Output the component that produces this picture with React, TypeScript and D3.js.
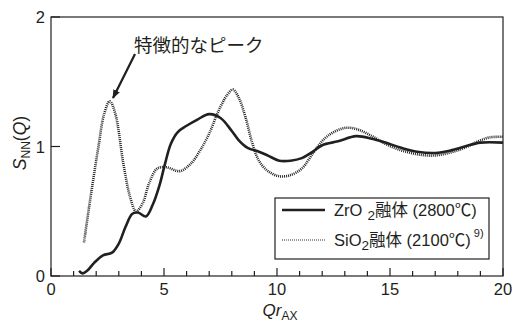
import React from "react";
import * as d3 from "d3";

const zrX = [1.24, 1.4, 1.6, 1.9, 2.3, 2.7, 3.0, 3.3, 3.6, 3.85, 4.2, 4.5, 4.8, 5.05, 5.3, 5.6, 6.0, 6.5, 7.0, 7.5, 8.0, 8.3, 8.7, 9.2, 9.6, 10.1, 10.6, 11.1, 11.5, 12.0, 12.7, 13.5, 14.2, 14.8, 15.5, 16.2, 17.0, 17.7, 18.3, 19.0, 20];
const zrY = [0.04, 0.02, 0.04, 0.1, 0.16, 0.18, 0.25, 0.38, 0.48, 0.49, 0.46, 0.55, 0.7, 0.87, 1.02, 1.11, 1.16, 1.21, 1.25, 1.22, 1.12, 1.05, 0.99, 0.96, 0.93, 0.89, 0.89, 0.91, 0.95, 1.01, 1.04, 1.08, 1.06, 1.03, 0.99, 0.96, 0.95, 0.97, 1.0, 1.03, 1.03];

const siX = [1.46, 1.7, 1.9, 2.1, 2.35, 2.6, 2.85, 3.2, 3.5, 3.76, 4.05, 4.35, 4.7, 5.1, 5.7, 6.2, 6.6, 7.0, 7.4, 7.8, 8.05, 8.3, 8.6, 8.9, 9.2, 9.6, 10.1, 10.6, 11.1, 11.6, 12.1, 12.6, 13.1, 13.6, 14.2, 14.8, 15.5, 16.2, 16.9, 17.6, 18.3, 18.9, 19.4, 20];
const siY = [0.26, 0.55, 0.78, 1.0, 1.25, 1.35, 1.25, 0.87, 0.61, 0.5, 0.56, 0.72, 0.83, 0.84, 0.81, 0.87, 0.97, 1.1, 1.27, 1.4, 1.44, 1.38, 1.23, 1.03, 0.89, 0.81, 0.77, 0.78, 0.83, 0.95, 1.06, 1.12, 1.145, 1.13, 1.08, 1.02, 0.97, 0.94, 0.93, 0.95, 0.99, 1.04, 1.07, 1.075];

const xMajor = [0, 5, 10, 15, 20];
const xMinor = [1, 2, 3, 4, 6, 7, 8, 9, 11, 12, 13, 14, 16, 17, 18, 19];
const yTicks = [0, 1, 2];

const annotation = "特徴的なピーク";
const legendZr = ["ZrO", "2", "融体 (2800℃)"];
const legendSi = ["SiO", "2", "融体 (2100℃)", "9)"];

export default function App() {
  const W = 514, H = 325;
  const L = 51, R = 503, T = 17, B = 276;
  const x = d3.scaleLinear().domain([0, 20]).range([L, R]);
  const y = d3.scaleLinear().domain([0, 2]).range([B, T]);
  const line = d3
    .line<[number, number]>()
    .x((d) => x(d[0]))
    .y((d) => y(d[1]))
    .curve(d3.curveCatmullRom.alpha(0.5));
  const zr: [number, number][] = zrX.map((v, i) => [v, zrY[i]]);
  const si: [number, number][] = siX.map((v, i) => [v, siY[i]]);
  const font = "'Liberation Sans', Arial, 'Noto Sans CJK JP', sans-serif";
  const ink = "#231f20";

  return (
    <div style={{ position: "absolute", left: 0, top: 0 }}>
      <svg width={W} height={H} style={{ display: "block", background: "#fff" }} fontFamily={font}>
        <defs>
          <marker id="ah" viewBox="0 0 10 10" refX="9" refY="5" markerWidth="9" markerHeight="9" orient="auto" markerUnits="userSpaceOnUse">
            <path d="M0,1 L10,5 L0,9 Z" fill={ink} />
          </marker>
        </defs>
        <rect x={L} y={T} width={R - L} height={B - T} fill="none" stroke={ink} strokeWidth={1.2} />
        {xMajor.map((t) => (
          <g key={"xM" + t}>
            <line x1={x(t)} x2={x(t)} y1={B} y2={B - 8} stroke={ink} strokeWidth={1.2} />
            <text x={x(t)} y={295} textAnchor="middle" fontSize={16.5} fill={ink}>{t}</text>
          </g>
        ))}
        {xMinor.map((t) => (
          <line key={"xm" + t} x1={x(t)} x2={x(t)} y1={B} y2={B - 5} stroke={ink} strokeWidth={1.2} />
        ))}
        {yTicks.map((t) => (
          <g key={"y" + t}>
            <line x1={L} x2={L + 9} y1={y(t)} y2={y(t)} stroke={ink} strokeWidth={1.2} />
            <text x={45} y={y(t) + 6} textAnchor="end" fontSize={16.5} fill={ink}>{t}</text>
          </g>
        ))}
        <path d={line(si) || ""} fill="none" stroke="#222" strokeWidth={2.6} strokeDasharray="1 1" />
        <path d={line(zr) || ""} fill="none" stroke={ink} strokeWidth={2.6} />

        <line x1={135} y1={54} x2={113} y2={98} stroke={ink} strokeWidth={2.2} markerEnd="url(#ah)" />
        <text x={134} y={52} fontSize={18.5} fill={ink}>{annotation}</text>

        <text transform={`translate(26,143) rotate(-90)`} textAnchor="middle" fontSize={17.5} fill={ink}>
          <tspan fontStyle="italic">S</tspan>
          <tspan fontSize={12} dy={4}>NN</tspan>
          <tspan dy={-4}>(</tspan>
          <tspan fontStyle="italic">Q</tspan>
          <tspan>)</tspan>
        </text>
        <text x={280} y={316} textAnchor="middle" fontSize={17} fill={ink}>
          <tspan fontStyle="italic">Qr</tspan>
          <tspan fontSize={12} dy={4}>AX</tspan>
        </text>

        <rect x={275} y={198} width={214} height={61} fill="#fff" stroke={ink} strokeWidth={1.2} />
        <line x1={282} x2={325} y1={210} y2={210} stroke={ink} strokeWidth={2.6} />
        <line x1={282} x2={325} y1={240} y2={240} stroke="#333" strokeWidth={1.2} strokeDasharray="1 1" />
        <text x={334} y={216} fontSize={16.5} fill={ink}>
          <tspan>{legendZr[0]}</tspan>
          <tspan dx={5} dy={4} fontSize={13.5}>{legendZr[1]}</tspan>
          <tspan dy={-4}>{legendZr[2]}</tspan>
        </text>
        <text x={334} y={246} fontSize={16.5} fill={ink}>
          <tspan>{legendSi[0]}</tspan>
          <tspan dy={4} fontSize={13.5}>{legendSi[1]}</tspan>
          <tspan dy={-4}>{legendSi[2]}</tspan>
          <tspan dx={3} dy={-9} fontSize={11}>{legendSi[3]}</tspan>
        </text>
      </svg>
    </div>
  );
}
